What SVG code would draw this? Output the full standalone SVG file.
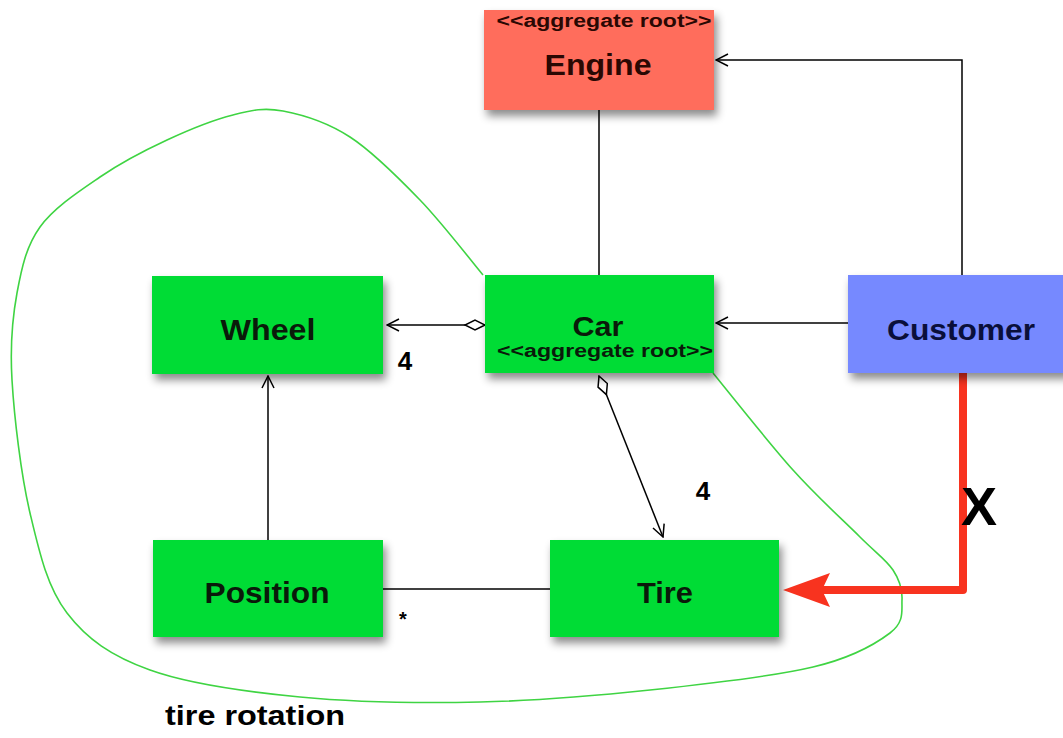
<svg xmlns="http://www.w3.org/2000/svg" width="1063" height="738" viewBox="0 0 1063 738">
<defs>
<filter id="sh" x="-10%" y="-10%" width="130%" height="140%">
<feDropShadow dx="3" dy="6" stdDeviation="4" flood-color="#000" flood-opacity="0.45"/>
</filter>
<marker id="open" viewBox="0 0 14 14" refX="13" refY="7" markerWidth="14" markerHeight="14" markerUnits="userSpaceOnUse" orient="auto">
<path d="M1,1 L13,7 L1,13" fill="none" stroke="#000" stroke-width="1.5"/>
</marker>
<marker id="dia" viewBox="0 0 24 12" refX="1" refY="6" markerWidth="24" markerHeight="12" markerUnits="userSpaceOnUse" orient="auto">
<path d="M1,6 L11,1 L21,6 L11,11 Z" fill="#fff" stroke="#000" stroke-width="1.5"/>
</marker>
</defs>
<style>
.box{filter:url(#sh)}
.g{fill:#05DC36}
.lbl{font-family:"Liberation Sans",Arial,sans-serif;font-weight:bold;text-anchor:middle}
.big{font-size:29px}
.sm{font-size:18px}
.ln{stroke:#000;stroke-width:1.5;fill:none}
</style>
<rect width="1063" height="738" fill="#fff"/>

<g id="connectors">
<path id="curve" d="M483,275 C472.5,262.5 442.2,223 420,200 C397.8,177 372.8,151.8 350,137 C327.2,122.2 302.5,114.7 283,111 C263.5,107.3 252.3,110.2 233,115 C213.7,119.8 189.2,129.7 167,140 C144.8,150.3 121.2,162.5 100,177 C78.8,191.5 53.8,207.7 40,227 C26.2,246.3 21.7,267.5 17,293 C12.3,318.5 9.8,343.3 12,380 C14.2,416.7 20.8,474.2 30,513 C39.2,551.8 47,586.8 67,613 C87,639.2 111.2,656 150,670 C188.8,684 245,691.7 300,697 C355,702.3 421.7,703.2 480,702 C538.3,700.8 594.5,695.8 650,690 C705.5,684.2 773,676.5 813,667 C853,657.5 875.2,644.2 890,633 C904.8,621.8 901.5,610.5 902,600 C902.5,589.5 900,580.5 893,570 C886,559.5 876.7,553.7 860,537 C843.3,520.3 817.5,497.3 793,470 C768.5,442.7 726.3,389.2 713,373" fill="none" stroke="#3FD443" stroke-width="1.6"/>
<line class="ln" x1="599" y1="110" x2="599" y2="275"/>
<path class="ln" d="M962,275 L962,60 L716,60" marker-end="url(#open)"/>
<line class="ln" x1="848" y1="323" x2="716" y2="323" marker-end="url(#open)"/>
<line class="ln" x1="485" y1="325" x2="387" y2="325" marker-start="url(#dia)" marker-end="url(#open)"/>
<line class="ln" x1="268" y1="540" x2="268" y2="376" marker-end="url(#open)"/>
<line class="ln" x1="599" y1="376" x2="663" y2="537" marker-start="url(#dia)" marker-end="url(#open)"/>
<line class="ln" x1="383" y1="589" x2="550" y2="589"/>
<path d="M963,373 L963,590 L822,590" fill="none" stroke="#F8331F" stroke-width="8" stroke-linejoin="round"/>
<path d="M783,590 L830,573 L822,590 L830,607 Z" fill="#F8331F"/>
<text class="lbl" x="405" y="370" font-size="26">4</text>
<text class="lbl" x="703" y="500" font-size="26">4</text>
<text class="lbl" x="403" y="626" font-size="20">*</text>
<text class="lbl" x="979" y="525" font-size="54">X</text>
<text class="lbl" x="255" y="725" font-size="28" textLength="180" lengthAdjust="spacingAndGlyphs">tire rotation</text>
</g>

<g id="engine">
<rect class="box" x="484" y="10" width="230" height="100" fill="#FF6D5C"/>
<text class="lbl sm" x="604" y="27" fill="#2a0803" textLength="215" lengthAdjust="spacingAndGlyphs">&lt;&lt;aggregate root&gt;&gt;</text>
<text class="lbl big" x="598" y="75" fill="#2a0803" textLength="107" lengthAdjust="spacingAndGlyphs">Engine</text>
</g>

<g id="car">
<rect class="box g" x="485" y="275" width="229" height="98"/>
<text class="lbl" x="598" y="336" font-size="28" fill="#0a1a0a" textLength="51" lengthAdjust="spacingAndGlyphs">Car</text>
<text class="lbl sm" x="605" y="357" fill="#0a1a0a" textLength="216" lengthAdjust="spacingAndGlyphs">&lt;&lt;aggregate root&gt;&gt;</text>
</g>

<g id="wheel">
<rect class="box g" x="152" y="276" width="231" height="98"/>
<text class="lbl big" x="268" y="340" fill="#0a1a0a" textLength="95" lengthAdjust="spacingAndGlyphs">Wheel</text>
</g>

<g id="customer">
<rect class="box" x="848" y="275" width="220" height="98" fill="#7689FF"/>
<text class="lbl big" x="961" y="340" fill="#0a0f3a" textLength="148" lengthAdjust="spacingAndGlyphs">Customer</text>
</g>

<g id="position">
<rect class="box g" x="153" y="540" width="230" height="97"/>
<text class="lbl big" x="267" y="603" fill="#0a1a0a" textLength="125" lengthAdjust="spacingAndGlyphs">Position</text>
</g>

<g id="tire">
<rect class="box g" x="550" y="540" width="229" height="97"/>
<text class="lbl big" x="665" y="603" fill="#0a1a0a" textLength="56" lengthAdjust="spacingAndGlyphs">Tire</text>
</g>
</svg>
